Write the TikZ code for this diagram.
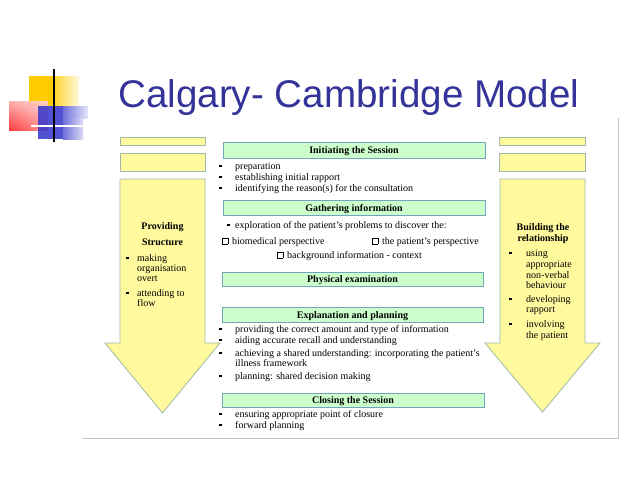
\documentclass[tikz,border=0pt]{standalone}
\usepackage{fontspec}
\usetikzlibrary{shadings}
\setmainfont{Liberation Serif}
\newfontfamily\titlefont{Liberation Sans}
\definecolor{titleblue}{HTML}{333399}
\definecolor{yelfill}{HTML}{FFFA9E}
\definecolor{yeldraw}{HTML}{9FB9A6}
\definecolor{grnfill}{HTML}{CCFFCC}
\definecolor{grndraw}{HTML}{6FA6BE}
\definecolor{framegray}{HTML}{C4C4C4}
\definecolor{logoyel}{HTML}{FFCC00}
\definecolor{logoblue}{HTML}{3333CC}
\newcommand\sqbul{\rule[1.8pt]{2.6pt}{2.6pt}}
\newcommand\cbox{{\setlength\fboxsep{0pt}\setlength\fboxrule{0.5pt}\raisebox{0.3pt}{\fbox{\rule{0pt}{5pt}\hspace{5pt}}}}}
\newcommand\bi[1]{\makebox[#1][l]{\sqbul}}
\begin{document}
\begin{tikzpicture}[x=1pt,y=-1pt,
  txt/.style={anchor=base west,inner sep=0pt,font=\fontsize{10}{11}\selectfont},
  hd/.style={anchor=base,inner sep=0pt,font=\fontsize{10}{11}\selectfont\bfseries},
  yelbox/.style={fill=yelfill,draw=yeldraw,line width=0.8pt},
  grnbox/.style={fill=grnfill,draw=grndraw,line width=0.9pt}]
\useasboundingbox (0,0) rectangle (638,479);
% logo
\fill[logoyel] (29,76) rectangle (55,106);
\shade[left color=logoyel!80,right color=logoyel!12] (55,76) rectangle (79,106);
\shade[upper left=red!35,upper right=red!15,lower left=red!85,lower right=red!45,opacity=0.9] (9,101) rectangle (48,130);
\fill[logoblue,opacity=0.85] (38,106) rectangle (63,139);
\shade[left color=logoblue!70,right color=logoblue!12] (63,106) rectangle (88,118);
\shade[left color=logoblue!70,right color=logoblue!18] (63,118) rectangle (83,139);
\draw[white,line width=1.4pt] (31,126) -- (83,126);
\draw[black,line width=1.8pt] (54,69) -- (54,142);
% title
\node[anchor=base west,inner sep=0pt,text=titleblue,font=\titlefont\fontsize{38.6}{40}\selectfont] (title) at (118,107) {Calgary- Cambridge Model};
% frame
\draw[framegray,line width=0.8pt] (82,438) -- (618,438) -- (618,118);
% left side
\draw[yelbox] (120,137) rectangle (205,145);
\draw[yelbox] (120,153) rectangle (205,171);
\draw[yelbox] (120,179) -- (205,179) -- (205,343) -- (220,343) -- (162.5,413) -- (105,343) -- (120,343) -- cycle;
\node[hd] (ps1) at (162.5,229) {Providing};
\node[hd] (ps2) at (162.5,245) {Structure};
\node[txt] (ps3) at (126,261) {\bi{11pt}making};
\node[txt] (ps4) at (137,271) {organisation};
\node[txt] (ps5) at (137,281) {overt};
\node[txt] (ps6) at (126,296) {\bi{11pt}attending to};
\node[txt] (ps7) at (137,306) {flow};
% right side
\draw[yelbox] (499,137) rectangle (585,145);
\draw[yelbox] (499,153) rectangle (585,171);
\draw[yelbox] (500,179) -- (585,179) -- (585,343) -- (600,343) -- (542.5,412) -- (485,343) -- (500,343) -- cycle;
\node[hd] (br1) at (543,230) {Building the};
\node[hd] (br2) at (543,241) {relationship};
\node[txt] (br3) at (509,256) {\bi{17pt}using};
\node[txt] (br4) at (526,267) {appropriate};
\node[txt] (br5) at (526,278) {non-verbal};
\node[txt] (br6) at (526,288) {behaviour};
\node[txt] (br7) at (509,302) {\bi{17pt}developing};
\node[txt] (br8) at (526,312) {rapport};
\node[txt] (br9) at (509,327) {\bi{17pt}involving};
\node[txt] (br10) at (526,338) {the patient};
% centre column
\draw[grnbox] (223,142) rectangle (485,158);
\node[hd] (h1) at (354,153.5) {Initiating the Session};
\node[txt] (i1) at (219,169) {\bi{16pt}preparation};
\node[txt] (i2) at (219,180) {\bi{16pt}establishing initial rapport};
\node[txt] (i3) at (219,191) {\bi{16pt}identifying the reason(s) for the consultation};
\draw[grnbox] (223,200) rectangle (485,215);
\node[hd] (h2) at (354,211) {Gathering information};
\node[txt] (g1) at (227,228) {\bi{8pt}exploration of the patient’s problems to discover the:};
\node[txt] (g2) at (222,244) {\cbox\hspace{4pt}biomedical perspective};
\node[txt] (g3) at (372,244) {\cbox\hspace{4pt}the patient’s perspective};
\node[txt] (g4) at (277,258) {\cbox\hspace{4pt}background information - context};
\draw[grnbox] (222,272) rectangle (483,286);
\node[hd] (h3) at (352.5,282.5) {Physical examination};
\draw[grnbox] (222,307) rectangle (483,322);
\node[hd] (h4) at (352.5,318) {Explanation and planning};
\node[txt] (e1) at (219,332) {\bi{16pt}providing the correct amount and type of information};
\node[txt] (e2) at (219,343) {\bi{16pt}aiding accurate recall and understanding};
\node[txt] (e3) at (219,356) {\bi{16pt}achieving a shared understanding: incorporating the patient’s};
\node[txt] (e4) at (235,366) {illness framework};
\node[txt] (e5) at (219,379) {\bi{16pt}planning: shared decision making};
\draw[grnbox] (222,393) rectangle (484,407);
\node[hd] (h5) at (353,403.5) {Closing the Session};
\node[txt] (c1) at (219,417) {\bi{16pt}ensuring appropriate point of closure};
\node[txt] (c2) at (219,428) {\bi{16pt}forward planning};
\end{tikzpicture}
\end{document}
